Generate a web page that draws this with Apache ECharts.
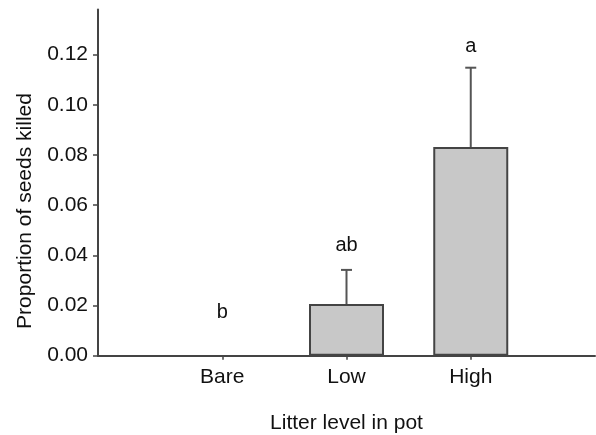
<!DOCTYPE html>
<html>
<head>
<meta charset="utf-8">
<script src="https://cdn.jsdelivr.net/npm/echarts@6/dist/echarts.min.js"></script>
<style>
  html, body { margin: 0; padding: 0; background: #fff; }
  #chart { width: 596px; height: 435px; }
</style>
</head>
<body>
<div id="chart"></div>
<script>
// padded slots at both ends so the axis runs past Bare and High
const categories = ['', 'Bare', 'Low', 'High', ''];
const means = [null, 0, 0.0206, 0.0832, null];
const upper = [null, null, 0.0342, 0.1148, null];
const letters = ['', 'b', 'ab', 'a', ''];
const letterAt = [null, 0.0173, 0.0440, 0.1231, null];
const yTicks = [0, 0.02, 0.04, 0.06, 0.08, 0.10, 0.12];

const axisColor = '#444';
const textColor = '#111';
const font = 'Arial, "Liberation Sans", sans-serif';

const chart = echarts.init(document.getElementById('chart'));

const option = {
    animation: false,
    grid: { left: 98, right: 1, top: 9.5, bottom: 79.3, containLabel: false, outerBoundsMode: 'none' },
    // y title sits lower than the axis middle in the original
    graphic: [{
        type: 'text',
        x: 25,
        y: 211,
        rotation: Math.PI / 2,
        style: {
            text: 'Proportion of seeds killed',
            fontSize: 21,
            fontFamily: font,
            fill: textColor,
            align: 'center',
            verticalAlign: 'middle'
        }
    }],
    xAxis: {
        type: 'category',
        data: categories,
        boundaryGap: false,
        name: 'Litter level in pot',
        nameLocation: 'middle',
        nameGap: 57,
        nameTextStyle: { fontSize: 21, color: textColor, fontFamily: font },
        axisLine: { lineStyle: { color: axisColor, width: 2 } },
        axisTick: {
            length: 4,
            lineStyle: { color: axisColor, width: 1.5 },
            interval: (i) => i >= 1 && i <= 3
        },
        axisLabel: {
            margin: 11,
            fontSize: 21,
            color: textColor,
            fontFamily: font,
            interval: 0
        },
        splitLine: { show: false }
    },
    yAxis: {
        type: 'value',
        min: 0,
        max: 0.138,
        interval: 0.02,
        axisLine: { show: true, lineStyle: { color: axisColor, width: 2 } },
        axisTick: {
            show: true,
            length: 5,
            customValues: yTicks,
            lineStyle: { color: axisColor, width: 1.5 }
        },
        axisLabel: {
            margin: 10,
            fontSize: 21,
            color: textColor,
            fontFamily: font,
            customValues: yTicks,
            formatter: (v) => v.toFixed(2)
        },
        splitLine: { show: false }
    },
    series: [
        {
            type: 'bar',
            // a zero bar draws nothing in the original, so drop its outline
            data: means.map(v => v === 0 ? { value: v, itemStyle: { borderWidth: 0 } } : v),
            barWidth: 75,
            itemStyle: { color: '#c8c8c8', borderColor: axisColor, borderWidth: 2 }
        },
        {
            type: 'custom',
            data: upper.map((u, i) => [i, means[i], u]),
            renderItem: (params, api) => {
                const i = api.value(0);
                const m = api.value(1);
                const u = api.value(2);
                if (u == null || isNaN(u)) return null;
                const base = api.coord([i, m]);
                const top = api.coord([i, u]);
                const half = 5.5;
                const style = { stroke: '#555', lineWidth: 2 };
                return {
                    type: 'group',
                    children: [
                        { type: 'line', shape: { x1: base[0], y1: base[1], x2: top[0], y2: top[1] }, style },
                        { type: 'line', shape: { x1: top[0] - half, y1: top[1], x2: top[0] + half, y2: top[1] }, style }
                    ]
                };
            },
            z: 3
        },
        {
            type: 'scatter',
            data: letterAt.map((v, i) => [i, v]),
            symbolSize: 0,
            itemStyle: { opacity: 1 },
            label: {
                show: true,
                position: 'inside',
                fontSize: 20,
                color: textColor,
                textBorderWidth: 0,
                fontFamily: font,
                formatter: (p) => letters[p.dataIndex]
            },
            z: 4
        }
    ]
};

chart.setOption(option);
</script>
</body>
</html>
